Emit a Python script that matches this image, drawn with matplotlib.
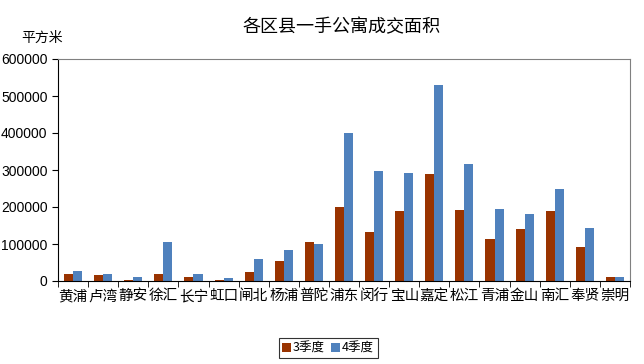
import matplotlib
matplotlib.use("Agg")
import matplotlib.pyplot as plt
import numpy as np

plt.rcParams['font.family'] = ['Liberation Sans', 'Noto Sans CJK SC', 'DejaVu Sans']

categories = ["黄浦", "卢湾", "静安", "徐汇", "长宁", "虹口", "闸北", "杨浦", "普陀",
              "浦东", "闵行", "宝山", "嘉定", "松江", "青浦", "金山", "南汇", "奉贤", "崇明"]
q3 = [19000, 16000, 3000, 19000, 11000, 3000, 25000, 54000, 105000,
      200000, 132000, 189000, 289000, 192000, 113000, 141000, 189000, 92000, 11000]
q4 = [27000, 19000, 11000, 105000, 19000, 8000, 60000, 84000, 100000,
      400000, 297000, 292000, 530000, 316000, 195000, 181000, 249000, 143000, 11000]
series_names = ["3季度", "4季度"]
yticks = [0, 100000, 200000, 300000, 400000, 500000, 600000]

fig = plt.figure(figsize=(6.44, 3.64), dpi=100)
ax = fig.add_axes([58/644, 1-281/364, (630-58)/644, (281-59)/364])

x = np.arange(len(categories))
w = 0.3
ax.bar(x - w/2, q3, w, color="#993300", label=series_names[0])
ax.bar(x + w/2, q4, w, color="#4F81BD", label=series_names[1])

ax.set_xlim(-0.5, len(categories) - 0.5)
ax.set_ylim(0, 600000)
ax.set_yticks(yticks)
ax.set_yticklabels([str(v) for v in yticks], fontsize=10)
ax.set_xticks(x)
ax.set_xticklabels(categories, fontsize=10.5, family=['Noto Sans CJK SC'])
ax.tick_params(axis='x', length=0, pad=6)
ax.set_xticks(np.arange(len(categories) + 1) - 0.5, minor=True)
ax.tick_params(axis='x', which='minor', length=4, direction='out')
ax.tick_params(axis='y', length=4, direction='out')

for s in ['top', 'right']:
    ax.spines[s].set_color('#808080')
for s in ['left', 'bottom']:
    ax.spines[s].set_color('black')

fig.text(342/644, 1-27/364, "各区县一手公寓成交面积", ha='center', va='center', fontsize=13,
         family=['Noto Sans CJK SC'])
fig.text(42/644, 1-38/364, "平方米", ha='center', va='center', fontsize=10,
         family=['Noto Sans CJK SC'])

leg = fig.legend(loc='center', bbox_to_anchor=(328/644, 1-348/364), ncol=2,
                 frameon=True, fancybox=False, handlelength=0.7,
                 handleheight=0.7, handletextpad=0.15, columnspacing=0.5,
                 borderpad=0.3, prop={'family': ['Noto Sans CJK SC'], 'size': 9})
leg.get_frame().set_edgecolor('black')
leg.get_frame().set_linewidth(0.8)

fig.savefig("out.png", dpi=100)
